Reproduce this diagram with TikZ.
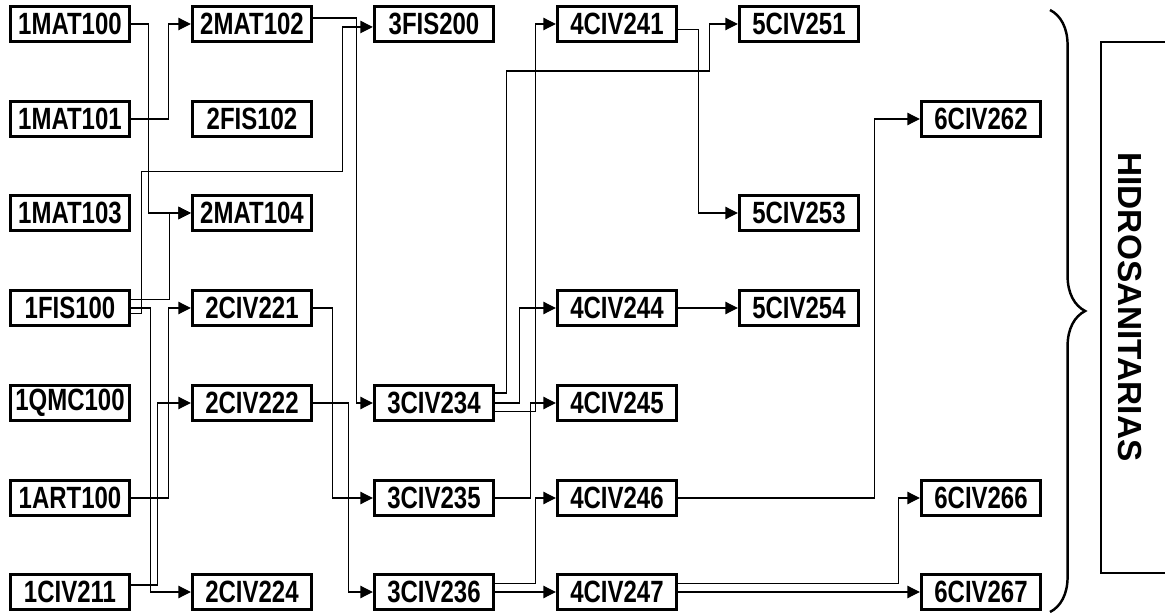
\documentclass[tikz,border=0pt]{standalone}
\usepackage{fontspec}
\setmainfont{Liberation Sans}
\newfontfamily\codefont[FakeStretch=0.78]{Liberation Sans}
\usetikzlibrary{arrows.meta,decorations.pathreplacing}

\tikzset{
  course/.style={draw, line width=1.7pt, minimum width=68pt, minimum height=19.5pt,
    inner sep=0pt, font=\codefont\bfseries\fontsize{17.5}{19}\selectfont},
  req/.style={line width=0.6pt, -{Triangle[length=7pt,width=7pt]}},
}

\begin{document}
\begin{tikzpicture}[x=0.02cm, y=-0.02cm]
        \useasboundingbox (0,0) rectangle (1165,614);
        \clip (0,0) rectangle (1165,614);

        % Semester 1
        \node[course] (mat100) at (70,24) {1MAT100};
        \node[course] (mat101) at (70,119) {1MAT101};
        \node[course] (mat103) at (70,213) {1MAT103};
        \node[course] (fis100) at (70,308) {1FIS100};
        \node[course] (qmc100) at (70,403) {1QMC100};
        \node[course] (art100) at (70,498) {1ART100};
        \node[course] (civ211) at (70,592) {1CIV211};

        % Semester 2
        \node[course] (mat102) at (252,24) {2MAT102};
        \node[course] (fis102) at (252,119) {2FIS102};
        \node[course] (mat104) at (252,213) {2MAT104};
        \node[course] (civ221) at (252,308) {2CIV221};
        \node[course] (civ222) at (252,403) {2CIV222};
        \node[course] (civ224) at (252,592) {2CIV224};

        % Semester 3
        \node[course] (fis200) at (434,24) {3FIS200};
        \node[course] (civ234) at (434,403) {3CIV234};
        \node[course] (civ235) at (434,498) {3CIV235};
        \node[course] (civ236) at (434,592) {3CIV236};

        % Semester 4
        \node[course] (civ241) at (617,24) {4CIV241};
        \node[course] (civ244) at (617,308) {4CIV244};
        \node[course] (civ245) at (617,403) {4CIV245};
        \node[course] (civ246) at (617,498) {4CIV246};
        \node[course] (civ247) at (617,592) {4CIV247};

        % Semester 5
        \node[course] (civ251) at (799,24) {5CIV251};
        \node[course] (civ253) at (799,213) {5CIV253};
        \node[course] (civ254) at (799,308) {5CIV254};

        % Semester 6
        \node[course] (civ262) at (981,119) {6CIV262};
        \node[course] (civ266) at (981,498) {6CIV266};
        \node[course] (civ267) at (981,592) {6CIV267};

        % Prerequisites from semester 1
        \draw[req] (mat100.east) -- ++(17,0) |- (mat104.west);
        \draw[req] (mat101.east) -- ++(37,0) |- (mat102.west);
        \draw[req] ([yshift=-3.4pt]fis100.east) -- ++(10,0) -- ++(0,-142) -- ++(201,0) |- ([yshift=-1.7pt]fis200.west);
        \draw[req] ([yshift=5.1pt]fis100.east) -- ++(38,0) |- (mat104.west);
        \draw[req] (fis100.east) -- ++(19,0) |- (civ224.west);
        \draw[req] (art100.east) -- ++(37,0) |- (civ221.west);
        \draw[req] ([yshift=4pt]civ211.east) -- ++(26,0) |- (civ222.west);

        % Prerequisites from semester 2
        \draw[req] ([yshift=3.4pt]mat102.east) -- ++(43,0) |- (civ234.west);
        \draw[req] (civ221.east) -- ++(19,0) |- (civ235.west);
        \draw[req] (civ222.east) -- ++(35,0) |- (civ236.west);

        % Prerequisites from semester 3
        \draw[req] ([yshift=5.7pt]civ234.east) -- ++(11,0) -- ++(0,-322) -- ++(203,0) |- (civ251.west);
        \draw[req] (civ234.east) -- ++(24,0) |- (civ244.west);
        \draw[req] ([yshift=-5.1pt]civ234.east) -- ++(40,0) |- (civ241.west);
        \draw[req] (civ235.east) -- ++(35,0) |- (civ245.west);
        \draw[req] ([yshift=5.1pt]civ236.east) -- ++(40,0) |- (civ246.west);
        \draw[req] (civ236.east) -- (civ247.west);

        % Prerequisites from semester 4
        \draw[req] ([yshift=-3.4pt]civ241.east) -- ++(20,0) |- (civ253.west);
        \draw[req] (civ244.east) -- (civ254.west);
        \draw[req] (civ246.east) -- ++(196,0) |- (civ262.west);
        \draw[req] ([yshift=5.1pt]civ247.east) -- ++(220,0) |- (civ266.west);
        \draw[req] (civ247.east) -- (civ267.west);

        % Area brace and label
        \draw[line width=1.4pt, decorate, decoration={brace, amplitude=20pt}] (1050,10) -- (1050,612);
        \draw[line width=1.1pt] (1101,42) rectangle (1185,573);
        \node[rotate=-90, font=\bfseries\fontsize{19}{21}\selectfont] (area) at (1130,307) {HIDROSANITARIAS};
\end{tikzpicture}
\end{document}
